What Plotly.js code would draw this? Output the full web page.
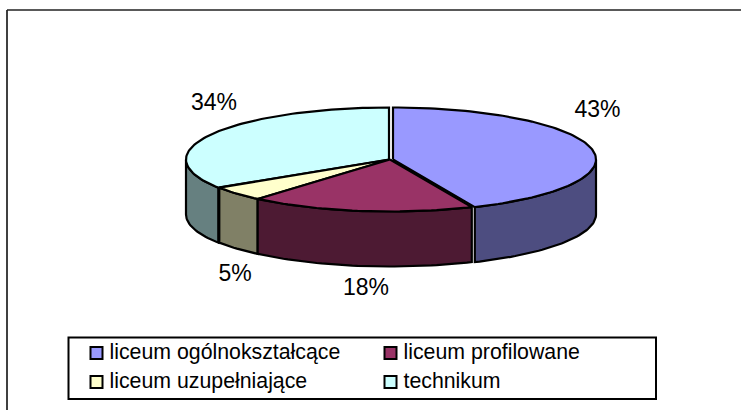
<!DOCTYPE html>
<html><head><meta charset="utf-8">
<script src="https://cdn.plot.ly/plotly-3.0.1.min.js"></script>
<style>html,body{margin:0;padding:0;background:#fff}#c{width:741px;height:410px}</style>
</head><body><div id="c"></div>
<script>
const categories = ["liceum ogólnokształcące","liceum profilowane","liceum uzupełniające","technikum"];
const shares = [43.4,17.9,4.6,34.1];
const pctLabels = ["43%","18%","5%","34%"];
const topColors = ["#9999ff","#993366","#ffffcc","#ccffff"];
const sideColors = ["#4d4d80","#4d1a33","#808066","#668080"];

const CX=390, CY=159.5, RX=203, RY=52, DEPTH=55;
const offsets=[[3,0],[0,0],[0,0],[-1,0]];
const labelPos=[[597.5,111.5],[366,289.5],[235,275.5],[214,104.5]];
const FONT='Liberation Sans, Arial, sans-serif';
const pt=(deg,o,dy)=>[CX+o[0]+RX*Math.sin(deg*Math.PI/180), CY+o[1]+(dy||0)-RY*Math.cos(deg*Math.PI/180)];
const arc=(a,b,o,dy)=>{const out=[];const n=Math.max(2,Math.ceil(Math.abs(b-a)/1.5));
  for(let i=0;i<=n;i++)out.push(pt(a+(b-a)*i/n,o,dy));return out;};

const traces=[];
function poly(pts,fill,lw){
  traces.push({type:'scatter',mode:'lines',x:pts.map(p=>p[0]),y:pts.map(p=>p[1]),fill:'toself',fillcolor:fill,
    line:{color:'#000',width:lw||2.2},hoverinfo:'skip',showlegend:false});
}
let cum=0; const spans=shares.map(v=>{const s=[cum,cum+v*3.6];cum+=v*3.6;return s;});
[0,3,2,1].forEach(i=>{
  const a=Math.max(spans[i][0],90), b=Math.min(spans[i][1],270);
  if(b<=a)return; const o=offsets[i];
  const top=arc(a,b,o,0), bot=arc(b,a,o,DEPTH);
  const pts=top.concat(bot); pts.push(top[0]); poly(pts,sideColors[i]);
});
[3,2,0,1].forEach(i=>{
  const o=offsets[i]; const c=[CX+o[0],CY+o[1]];
  const pts=[c].concat(arc(spans[i][0],spans[i][1],o,0)); pts.push(c); poly(pts,topColors[i]);
});
traces.push({type:'scatter',mode:'text',x:labelPos.map(p=>p[0]),y:labelPos.map(p=>p[1]),text:pctLabels,
  textposition:'middle center',textfont:{family:FONT,size:23,color:'#000'},hoverinfo:'skip',showlegend:false});
const legX=[96.5,390.5], legY=[353,382];
categories.forEach((name,i)=>{
  const lx=legX[i%2], ly=legY[i>>1];
  traces.push({type:'scatter',mode:'markers',x:[lx],y:[ly],name:name,
    marker:{symbol:'square',size:12,color:topColors[i],line:{color:'#000',width:2}},hoverinfo:'skip',showlegend:false});
  traces.push({type:'scatter',mode:'text',x:[lx+13],y:[ly+1],text:[name],textposition:'middle right',
    textfont:{family:FONT,size:21.3,color:'#000'},hoverinfo:'skip',showlegend:false});
});
const hidden={visible:false,fixedrange:true};
Plotly.newPlot('c',traces,{
  width:741,height:410,margin:{l:0,r:0,t:0,b:0},paper_bgcolor:'#fff',plot_bgcolor:'#fff',showlegend:false,
  xaxis:Object.assign({range:[0,741]},hidden),
  yaxis:Object.assign({range:[410,0]},hidden),
  shapes:[
    {type:'line',x0:7,x1:7,y0:10,y1:410,line:{color:'#000',width:1.5}},
    {type:'line',x0:7,x1:741,y0:10,y1:10,line:{color:'#222',width:1.5}},
    {type:'rect',x0:68.5,x1:656,y0:337.5,y1:399,line:{color:'#000',width:2},fillcolor:'rgba(0,0,0,0)',layer:'below'}
  ]
},{displayModeBar:false,staticPlot:true});
</script></body></html>
